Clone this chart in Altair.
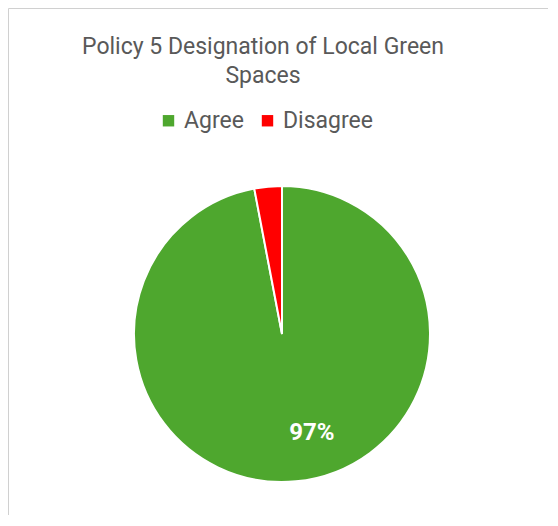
import altair as alt
import pandas as pd

categories = ["Agree", "Disagree"]
values = [97, 3]
labels = ["97%", ""]
colors = ["#4EA72E", "#FF0000"]

df = pd.DataFrame({"category": categories, "value": values, "label": labels, "idx": [0, 1]})

base = alt.Chart(df)

pie = base.mark_arc(radius=148, stroke="white", strokeWidth=2).encode(
    theta=alt.Theta("value:Q", stack=True),
    color=alt.Color(
        "category:N",
        scale=alt.Scale(domain=categories, range=colors),
        legend=alt.Legend(
            title=None, orient="none", direction="horizontal", legendX=149, legendY=101,
            symbolType="square", symbolSize=130, labelFontSize=23, labelColor="#595959",
            labelFont="Roboto", columnPadding=12, labelOffset=4, symbolStrokeWidth=0,
        ),
    ),
    order=alt.Order("idx:Q"),
    x=alt.value(274),
    y=alt.value(326),
)

txt = base.mark_text(radius=103, thetaOffset=-0.2, fontSize=24, fontWeight="bold",
                     color="white", font="Roboto").encode(
    theta=alt.Theta("value:Q", stack=True),
    order=alt.Order("idx:Q"),
    text="label:N",
    x=alt.value(274),
    y=alt.value(326),
)

chart = alt.layer(pie, txt).properties(
    width=540, height=507,
    title=alt.TitleParams(
        text=["Policy 5 Designation of Local Green", "Spaces"],
        fontSize=23, font="Roboto", fontWeight="normal", color="#595959",
        offset=-80, dx=-15, lineHeight=29, anchor="middle",
    ),
).configure_view(stroke="#D0D0D0", strokeWidth=1).properties(padding=0)

chart.save("out.html", embed_options={"renderer": "svg", "actions": False})
